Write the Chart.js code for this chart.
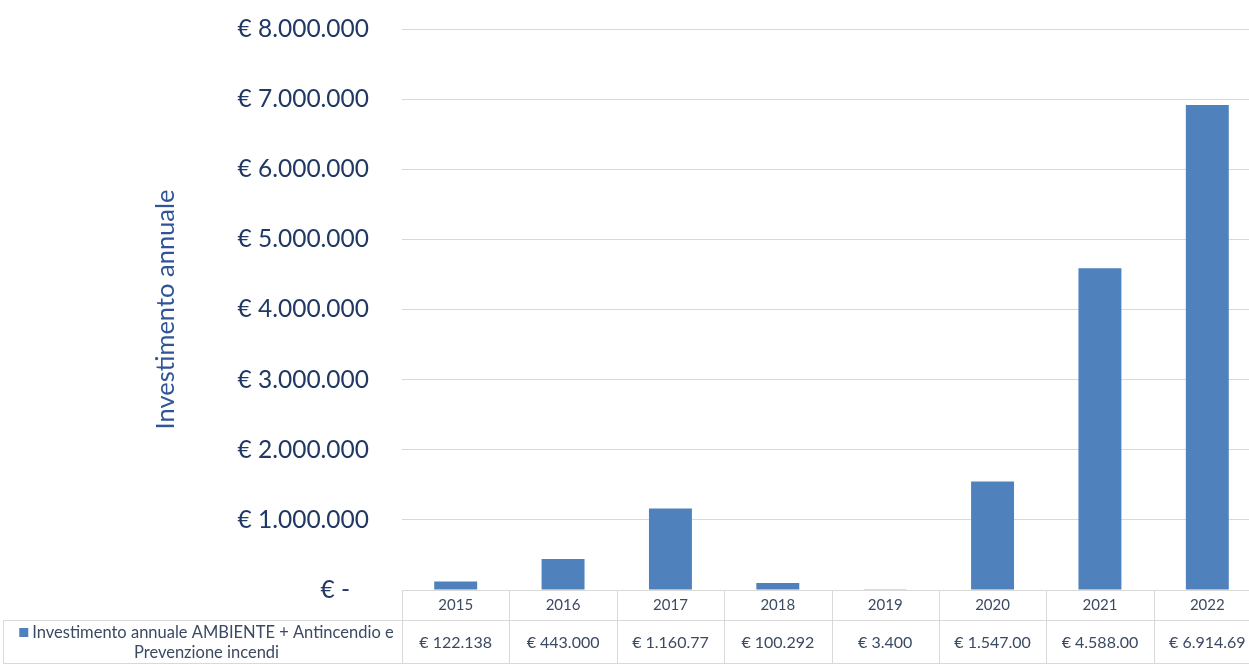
<!DOCTYPE html>
<html lang="it">
<head>
<meta charset="UTF-8">
<title>Investimento annuale</title>
<script src="https://cdn.jsdelivr.net/npm/chart.js"></script>
<style>
  html, body { margin: 0; padding: 0; overflow: hidden; background: #fff; }
  #wrap { width: 1262px; height: 664px; }
</style>
</head>
<body>
<div id="wrap"><canvas id="chart" width="1262" height="664"></canvas></div>
<script>
// dati
const anni = ['2015', '2016', '2017', '2018', '2019', '2020', '2021', '2022'];
const investimenti = [122138, 443000, 1160770, 100292, 3400, 1547000, 4588000, 6914690];
// etichette come appaiono (troncate) nella tabella dati
const etichetteTabella = ['€ 122.138', '€ 443.000', '€ 1.160.77', '€ 100.292', '€ 3.400', '€ 1.547.00', '€ 4.588.00', '€ 6.914.69'];
const legenda = ['Investimento annuale AMBIENTE + Antincendio e', 'Prevenzione incendi'];

const FONT = 'Lato, "Noto Sans", sans-serif';
const BLU = '#4f81bd';
const GRIGIO = '#d9d9d9';
const TESTO_TAB = '#3b4a63';

// tabella dati sotto l'asse x, stile Excel
const tabellaDati = {
    id: 'tabellaDati',
    afterDraw(chart) {
        const ctx = chart.ctx;
        const x = chart.scales.x;
        const area = chart.chartArea;
        const n = anni.length;
        const w = (area.right - area.left) / n;
        const y0 = area.bottom;
        const y1 = y0 + 30;
        const y2 = chart.height - 1;
        ctx.save();
        ctx.strokeStyle = GRIGIO;
        ctx.lineWidth = 1;
        ctx.beginPath();
        ctx.moveTo(area.left, y0 + 0.5); ctx.lineTo(area.right, y0 + 0.5);
        ctx.moveTo(3, y1 + 0.5); ctx.lineTo(area.right, y1 + 0.5);
        ctx.moveTo(3, y2 + 0.5); ctx.lineTo(area.right, y2 + 0.5);
        ctx.moveTo(3.5, y1); ctx.lineTo(3.5, y2);
        for (let i = 0; i <= n; i++) {
            const xx = Math.round(area.left + i * w) + 0.5;
            ctx.moveTo(xx, y0); ctx.lineTo(xx, y2);
        }
        ctx.stroke();

        ctx.fillStyle = TESTO_TAB;
        ctx.textAlign = 'center';
        ctx.textBaseline = 'middle';
        anni.forEach((a, i) => {
            const cx = x.getPixelForValue(i);
            ctx.font = '15px ' + FONT;
            ctx.fillText(a, cx, (y0 + y1) / 2);
            ctx.font = '16px ' + FONT;
            ctx.fillText(etichetteTabella[i], cx, (y1 + y2) / 2 + 1);
        });

        // cella legenda
        ctx.font = '16.5px ' + FONT;
        const cxL = (3 + area.left) / 2 + 4;
        const w1 = ctx.measureText(legenda[0]).width;
        const start = cxL - (w1 + 13) / 2;
        ctx.fillStyle = BLU;
        ctx.fillRect(start, y1 + 8, 9, 9);
        ctx.fillStyle = TESTO_TAB;
        ctx.textAlign = 'left';
        ctx.fillText(legenda[0], start + 13, y1 + 13);
        ctx.textAlign = 'center';
        ctx.fillText(legenda[1], cxL, y1 + 33);
        ctx.restore();
    }
};

new Chart(document.getElementById('chart'), {
    type: 'bar',
    data: {
        labels: anni,
        datasets: [{
            label: legenda.join(' '),
            data: investimenti,
            backgroundColor: BLU,
            borderWidth: 0,
            categoryPercentage: 1,
            barPercentage: 0.4
        }]
    },
    options: {
        responsive: false,
        animation: false,
        layout: { padding: { top: 29, bottom: 74, right: 1, left: 0 } },
        plugins: {
            legend: { display: false },
            tooltip: { enabled: false }
        },
        scales: {
            x: { display: false },
            y: {
                min: 0,
                max: 8000000,
                border: { display: false },
                grid: { color: GRIGIO, drawTicks: false },
                afterFit(scale) {
                    scale.width = 402;
                    scale.paddingTop = 0;
                    scale.paddingBottom = 0;
                },
                ticks: {
                    stepSize: 1000000,
                    padding: 33,
                    color: '#203864',
                    font: { family: FONT, size: 24.5 },
                    callback: v => v === 0 ? '€ -   ' : '€ ' + v.toLocaleString('de-DE')
                },
                title: {
                    display: true,
                    text: 'Investimento annuale',
                    color: '#2f5597',
                    font: { family: FONT, size: 25.5 },
                    padding: { top: 150 }
                }
            }
        }
    },
    plugins: [tabellaDati]
});
</script>
</body>
</html>
